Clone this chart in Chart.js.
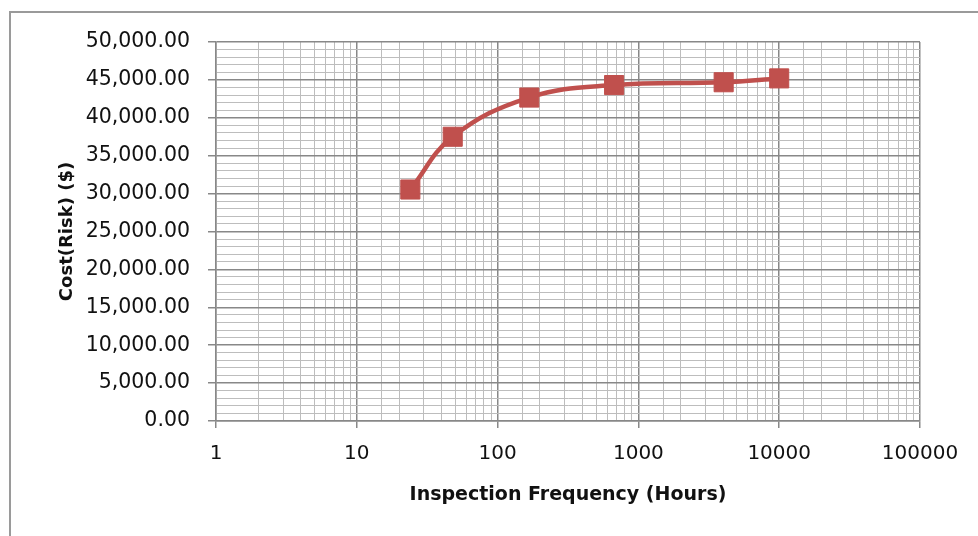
<!DOCTYPE html>
<html>
<head>
<meta charset="utf-8">
<script src="https://cdn.jsdelivr.net/npm/chart.js@4/dist/chart.umd.min.js"></script>
<style>
  html, body { margin: 0; padding: 0; background: #fff; }
  #frame {
    position: absolute; left: 9px; top: 11px; width: 1100px; height: 700px;
    border-left: 2px solid #9a9a9a; border-top: 2px solid #9a9a9a;
  }
  #wrap { position: absolute; left: 0; top: 0; width: 978px; height: 536px; }
</style>
</head>
<body>
<div id="frame"></div>
<div id="wrap"><canvas id="chart" width="978" height="536"></canvas></div>
<script>
// Inspection frequency (hours) vs cost of risk
const hours = [24, 48, 168, 672, 4032, 10000];
const costRisk = [30540, 37500, 42670, 44320, 44690, 45200];

const MAJOR = '#888888';
const MINOR = '#bdbdbd';
const RED = '#c0504d';

function isDecade(v) {
  const l = Math.log10(v);
  return Math.abs(l - Math.round(l)) < 1e-9;
}

new Chart(document.getElementById('chart'), {
  type: 'line',
  data: {
    datasets: [{
      data: hours.map((h, i) => ({ x: h, y: costRisk[i] })),
      borderColor: RED,
      backgroundColor: RED,
      borderWidth: 4.5,
      tension: 0.4,
      pointStyle: 'rect',
      pointRadius: 13.5,
      pointBorderWidth: 1,
      pointBorderColor: RED,
      pointBackgroundColor: RED,
    }],
  },
  options: {
    responsive: false,
    animation: false,
    layout: { padding: { left: 0, top: 42, right: 58, bottom: 0 } },
    plugins: {
      legend: { display: false },
      tooltip: { enabled: false },
    },
    scales: {
      x: {
        type: 'logarithmic',
        min: 1,
        max: 100000,
        afterFit: s => { s.height = 115; },
        border: { color: MAJOR, width: 1.5 },
        grid: {
          color: c => (c.tick && isDecade(c.tick.value) ? MAJOR : MINOR),
          lineWidth: c => (c.tick && isDecade(c.tick.value) ? 1.5 : 1),
          tickColor: c => (c.tick && isDecade(c.tick.value) ? MAJOR : 'transparent'),
          tickLength: 7,
        },
        ticks: {
          autoSkip: false,
          maxRotation: 0,
          padding: 14,
          color: '#111',
          font: { family: 'DejaVu Sans', size: 20 },
          callback: v => (isDecade(v) ? String(Math.round(v)) : ''),
        },
        title: {
          display: true,
          text: 'Inspection Frequency (Hours)',
          color: '#111',
          font: { family: 'DejaVu Sans', size: 19, weight: 'bold' },
          padding: { top: 0, bottom: 30 },
        },
      },
      y: {
        type: 'linear',
        min: 0,
        max: 50000,
        afterFit: s => { s.width = 216; },
        border: { color: MAJOR, width: 1.5 },
        grid: {
          color: c => (c.tick && c.tick.value % 5000 === 0 ? MAJOR : MINOR),
          lineWidth: c => (c.tick && c.tick.value % 5000 === 0 ? 1.5 : 1),
          tickColor: c => (c.tick && c.tick.value % 5000 === 0 ? MAJOR : 'transparent'),
          tickLength: 8,
        },
        ticks: {
          stepSize: 1000,
          maxTicksLimit: 100,
          autoSkip: false,
          padding: 18,
          color: '#111',
          font: { family: 'DejaVu Sans', size: 20.5 },
          callback: v => (v % 5000 === 0
            ? v.toLocaleString('en-US', { minimumFractionDigits: 2, maximumFractionDigits: 2 })
            : ''),
        },
        title: {
          display: true,
          text: 'Cost(Risk) ($)',
          color: '#111',
          font: { family: 'DejaVu Sans', size: 18, weight: 'bold' },
          padding: { top: 57, bottom: 0 },
        },
      },
    },
  },
});
</script>
</body>
</html>
